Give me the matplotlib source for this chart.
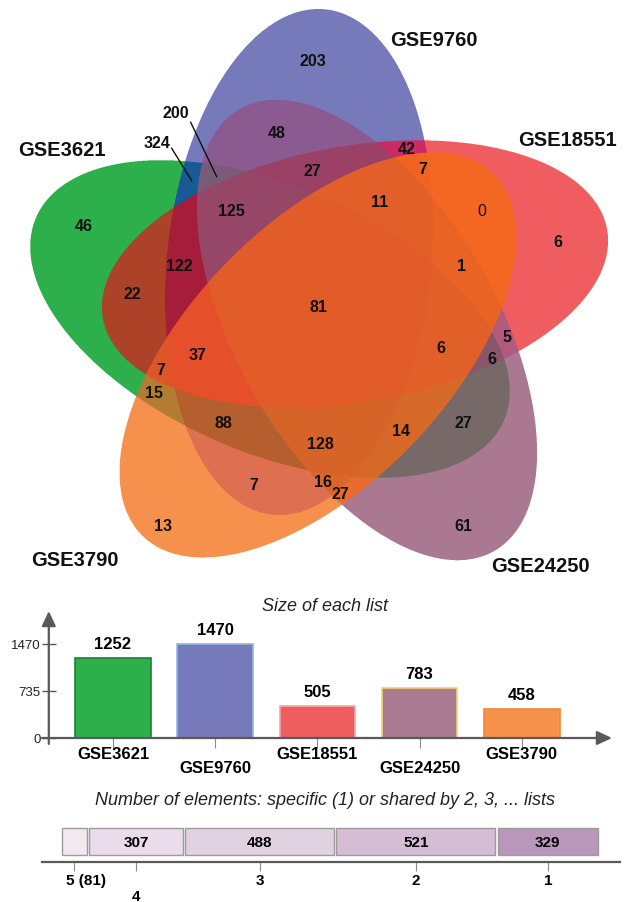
import numpy as np
import matplotlib
matplotlib.use("Agg")
import matplotlib.pyplot as plt

plt.rcParams["font.family"] = ["Liberation Sans", "DejaVu Sans"]

W, H, DPI = 624, 903, 100

# ---------------- data ----------------
list_names = ["GSE3621", "GSE9760", "GSE18551", "GSE24250", "GSE3790"]
list_sizes = [1252, 1470, 505, 783, 458]

# Venn regions: members (indices into list_names) and element counts
region_members = [
    (0,), (1,), (2,), (3,), (4,),
    (0, 1), (0, 2), (0, 3), (0, 4), (1, 2), (1, 3), (1, 4), (2, 3), (2, 4), (3, 4),
    (0, 1, 2), (0, 1, 3), (0, 1, 4), (0, 2, 3), (0, 2, 4), (0, 3, 4),
    (1, 2, 3), (1, 2, 4), (1, 3, 4), (2, 3, 4),
    (0, 1, 2, 3), (0, 1, 2, 4), (0, 1, 3, 4), (0, 2, 3, 4), (1, 2, 3, 4),
    (0, 1, 2, 3, 4),
]
region_counts = [
    46, 203, 6, 61, 13,
    324, 22, 27, 15, 42, 48, 7, 5, 0, 27,
    122, 200, 88, 6, 7, 14,
    27, 7, 16, 1,
    125, 37, 128, 6, 11,
    81,
]

# elements specific to one list or shared by 2..5 lists
shared_degree = [5, 4, 3, 2, 1]
shared_counts = [81, 307, 488, 521, 329]

# ---------------- styling / layout ----------------
list_colors = ["#2db04b", "#767aba", "#f05d61", "#aa7992", "#f6924c"]
bar_edges = ["#1b7f37", "#93b4e6", "#f7a6a6", "#f3d466", "#f4843a"]

region_colors = [
    "#2db04b", "#767aba", "#f05d61", "#aa7992", "#f6924c",
    "#175a96", "#ac4329", "#766a68", "#b47d32", "#cb2a66", "#8c5a91",
    "#de6f50", "#b25a7e", "#f36824", "#e86c30",
    "#a51d3b", "#775b7a", "#b45f2d", "#8a566a", "#dc5628", "#d76a28",
    "#9b4166", "#f06423", "#de6529", "#e96325",
    "#964869", "#e5502a", "#d76428", "#e15f28", "#e25f29",
    "#e15c28",
]

# ellipse geometry in pixels: centre x, centre y, major-axis angle, semi-axes
ellipses = [
    (270, 320, 23.5, 255, 133),
    (299, 263, -84.0, 254, 132),
    (355, 275, -10.0, 256, 128),
    (367, 331, 60.0, 255, 130),
    (318, 356, -46.0, 252, 130),
]

title_pos = [(61.5, 150), (434, 40), (567, 140), (540, 567), (75, 561)]

label_pos = [
    (84, 227), (313, 62), (558, 243), (463, 527), (163, 527),
    (157, 143), (132, 295), (463, 424), (154, 394), (407, 150), (277, 133),
    (254, 486), (507, 338), (482, 212), (340, 495),
    (179, 267), (176, 114), (223, 424), (492, 360), (161, 371), (401, 432),
    (312, 172), (423, 169), (323, 483), (462, 267),
    (231, 212), (198, 356), (320, 445), (441, 349), (380, 203),
    (318, 308),
]
leaders = {(0, 1): ((171.7, 149.3), (191.7, 181.7)),
           (0, 1, 3): ((190.7, 123.3), (216.7, 177.7))}

fig = plt.figure(figsize=(W / DPI, H / DPI), dpi=DPI)


def px_axes(x0, y0, x1, y1):
    return fig.add_axes([x0 / W, 1 - y1 / H, (x1 - x0) / W, (y1 - y0) / H])


# ---------------- Venn diagram ----------------
vax = fig.add_axes([0, 0, 1, 1])
vax.set_xlim(0, W)
vax.set_ylim(H, 0)
vax.axis("off")

venn_h = 592
ss = 3
xs = (np.arange(W * ss) + 0.5) / ss
ys = (np.arange(venn_h * ss) + 0.5) / ss
X, Y = np.meshgrid(xs, ys)
code = np.zeros(X.shape, dtype=np.int16)
for i, (cx, cy, ang, a, b) in enumerate(ellipses):
    t = np.deg2rad(ang)
    dx, dy = X - cx, Y - cy
    u = dx * np.cos(t) + dy * np.sin(t)
    v = -dx * np.sin(t) + dy * np.cos(t)
    code |= (((u / a) ** 2 + (v / b) ** 2) <= 1).astype(np.int16) << i

lut = np.ones((32, 3))
for members, col in zip(region_members, region_colors):
    key = sum(1 << m for m in members)
    lut[key] = matplotlib.colors.to_rgb(col)
img = lut[code].reshape(venn_h, ss, W, ss, 3).mean(axis=(1, 3))
vax.imshow(img, extent=(0, W, venn_h, 0), interpolation="nearest",
           aspect="auto", zorder=0)

for name, (x, y) in zip(list_names, title_pos):
    vax.text(x, y, name, ha="center", va="center", fontsize=14.5,
             fontweight="bold", color="#111111")

for members, n, (x, y) in zip(region_members, region_counts, label_pos):
    vax.text(x, y, str(n), ha="center", va="center", fontsize=11.5,
             fontweight="normal" if n == 0 else "bold", color="#111111")
    if members in leaders:
        (x0, y0), (x1, y1) = leaders[members]
        vax.plot([x0, x1], [y0, y1], color="#111111", lw=1)

# ---------------- size of each list ----------------
axis_col = "#595959"
sax = px_axes(48.8, 612, 612, 739)
sax.set_xlim(-0.628, 4.883)
sax.set_ylim(0, 1986)
for s in sax.spines.values():
    s.set_visible(False)
sax.patch.set_alpha(0)
xpos = np.arange(len(list_names))
sax.bar(xpos, list_sizes, width=0.74, color=list_colors,
        edgecolor=bar_edges, linewidth=1.2, zorder=2)
for x, v in zip(xpos, list_sizes):
    sax.annotate(str(v), xy=(x, v), xytext=(0, 14), textcoords="offset pixels",
                 ha="center", va="center", fontsize=12, fontweight="bold")
arrow = dict(arrowstyle="-|>,head_length=0.9,head_width=0.42", color=axis_col,
             lw=1.6, shrinkA=0, shrinkB=0)
sax.annotate("", xy=(1.0, 0), xytext=(-0.012, 0), xycoords="axes fraction",
             arrowprops=arrow, annotation_clip=False)
sax.annotate("", xy=(0, 1.0), xytext=(0, -0.047), xycoords="axes fraction",
             arrowprops=arrow, annotation_clip=False)
sax.set_yticks([0, 735, 1470])
sax.set_yticklabels(["0", "735", "1470"])
sax.tick_params(axis="y", direction="inout", length=10, width=1,
                color=axis_col, labelsize=9.5, pad=1, labelcolor="#222222")
sax.set_xticks(xpos)
sax.set_xticklabels([])
sax.tick_params(axis="x", direction="out", length=7, width=0.8, color="#8a8a8a")
for x, name in zip(xpos, list_names):
    dy = 15.3 if x % 2 == 0 else 29.5
    sax.annotate(name, xy=(x, 0), xycoords=("data", "axes fraction"),
                 xytext=(0, -dy), textcoords="offset pixels",
                 ha="center", va="center", fontsize=12, fontweight="bold",
                 annotation_clip=False)
fig.text(324.5 / W, 1 - 606.7 / H, "Size of each list", ha="center",
         va="center", fontsize=13, style="italic", color="#222222")

# ---------------- shared elements ----------------
fig.text(325 / W, 1 - 800.5 / H,
         "Number of elements: specific (1) or shared by 2, 3, ... lists",
         ha="center", va="center", fontsize=13, style="italic", color="#222222")
shades = ["#f3e8f0", "#eadcea", "#e1d2e1", "#d5bed5", "#bb96bb"]
gap = 8
bax = px_axes(42, 826, 620, 862.7)
bax.set_xlim(-66, 1830)
bax.set_ylim(0, 1)
bax.patch.set_alpha(0)
for k in ["top", "left", "right"]:
    bax.spines[k].set_visible(False)
bax.spines["bottom"].set_color(axis_col)
bax.spines["bottom"].set_linewidth(1.6)
lefts = np.concatenate([[0], np.cumsum(np.array(shared_counts) + gap)[:-1]])
centers = lefts + np.array(shared_counts) / 2
bax.barh(0.55, shared_counts, left=lefts, height=0.735, color=shades,
         edgecolor="#9c9c9c", linewidth=1)
for c, n, d in zip(centers, shared_counts, shared_degree):
    if d < 5:
        bax.text(c, 0.55, str(n), ha="center", va="center", fontsize=11,
                 fontweight="bold")
bax.set_yticks([])
bax.set_xticks(centers)
bax.set_xticklabels([])
bax.tick_params(axis="x", direction="out", length=6.5, width=0.8, color="#8a8a8a")
for c, n, d in zip(centers, shared_counts, shared_degree):
    if d == 5:
        txt, dx, dy, ha = f"{d} ({n})", -8, 18.3, "left"
    elif d == 4:
        txt, dx, dy, ha = str(d), 0, 34, "center"
    else:
        txt, dx, dy, ha = str(d), 0, 18.3, "center"
    bax.annotate(txt, xy=(c, 0), xycoords=("data", "axes fraction"),
                 xytext=(dx, -dy), textcoords="offset pixels", ha=ha,
                 va="center", fontsize=11, fontweight="bold",
                 annotation_clip=False)

fig.savefig("out.png", dpi=DPI, facecolor="white")
